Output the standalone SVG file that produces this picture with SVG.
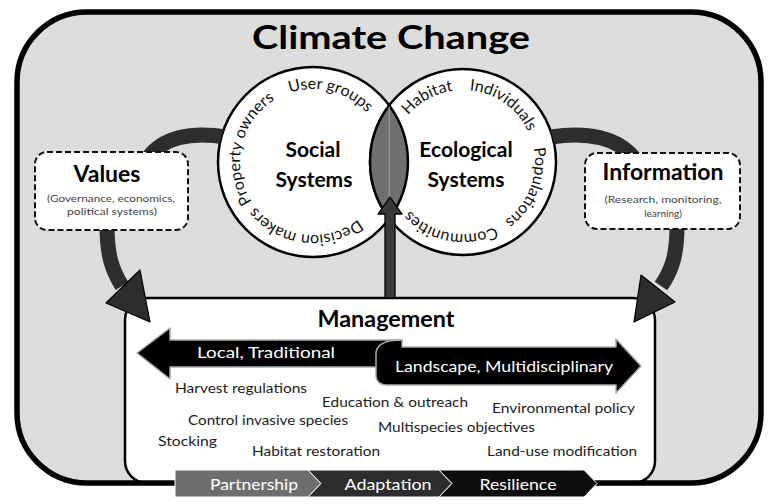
<svg xmlns="http://www.w3.org/2000/svg" xmlns:xlink="http://www.w3.org/1999/xlink" width="769" height="504" viewBox="0 0 769 504">
<style>
.t{font-family:Lato,"Open Sans","Liberation Sans",sans-serif;}
.b{font-weight:bold;}
.ring{fill:#fff;stroke:#000;stroke-width:2.5;}
.ct{font-size:16px;fill:#111;}
.item{font-size:13.5px;fill:#1c1c1c;}
.band{fill:none;stroke:#2e2e2e;stroke-width:15;}
.head{fill:#2e2e2e;stroke:#000;stroke-width:1.2;stroke-linejoin:round;}
.dash{fill:#fff;stroke:#111;stroke-width:2;stroke-dasharray:6 3;}
.sub{font-size:10px;fill:#444;}
.chev{stroke:#fff;stroke-width:1;}
.w{fill:#fff;font-size:16px;}
</style>
<defs>
<path id="tpL" d="M240,162 A73,73 0 1 1 386,162 A73,73 0 1 1 240,162 A73,73 0 1 1 386,162 A73,73 0 1 1 240,162"/>
<path id="tpR" d="M391,162 A72,72 0 1 1 535,162 A72,72 0 1 1 391,162 A72,72 0 1 1 535,162 A72,72 0 1 1 391,162"/>
<clipPath id="outC">
<path clip-rule="evenodd" d="M0,0 H769 V504 H0 Z M218,162 A95,95 0 1 1 408,162 A95,95 0 1 1 218,162 Z M370,162 A93,93 0 1 1 556,162 A93,93 0 1 1 370,162 Z"/>
</clipPath>
</defs>
<rect width="769" height="504" fill="#fff"/>
<g id="frame">
<rect x="17" y="12" width="744" height="471" rx="70" ry="70" fill="#dcdcdc"/>
<text class="t b" x="391" y="49" font-size="33" text-anchor="middle" textLength="278" lengthAdjust="spacingAndGlyphs">Climate Change</text>
</g>
<g id="management">
<rect x="125" y="298" width="530" height="185" rx="22" ry="22" fill="#fff" stroke="#000" stroke-width="2.5"/>
<text class="t b" x="386" y="327" font-size="22" text-anchor="middle" textLength="137" lengthAdjust="spacingAndGlyphs">Management</text>
<path d="M137,353 L170,328 L170,340 L402,340 L402,367 L170,367 L170,379 Z" fill="#000" stroke="#aaa" stroke-width="1.5" stroke-linejoin="round"/>
<text class="t w" x="266" y="358" text-anchor="middle" textLength="138" lengthAdjust="spacingAndGlyphs">Local, Traditional</text>
<path d="M376,354 C376,344 386,340 402,340 L402,347 L616,347 L616,339 L641,366 L616,393 L616,385 L386,385 C380,385 376,381 376,376 Z" fill="#000" stroke="#aaa" stroke-width="1.5" stroke-linejoin="round"/>
<text class="t w" x="504" y="372" text-anchor="middle" textLength="218" lengthAdjust="spacingAndGlyphs">Landscape, Multidisciplinary</text>
<text class="t item" x="175" y="393" textLength="132" lengthAdjust="spacingAndGlyphs">Harvest regulations</text>
<text class="t item" x="322" y="407" textLength="146" lengthAdjust="spacingAndGlyphs">Education &amp; outreach</text>
<text class="t item" x="492" y="413" textLength="143" lengthAdjust="spacingAndGlyphs">Environmental policy</text>
<text class="t item" x="188" y="425" textLength="160" lengthAdjust="spacingAndGlyphs">Control invasive species</text>
<text class="t item" x="378" y="432" textLength="157" lengthAdjust="spacingAndGlyphs">Multispecies objectives</text>
<text class="t item" x="158" y="446" textLength="59" lengthAdjust="spacingAndGlyphs">Stocking</text>
<text class="t item" x="252" y="456" textLength="128" lengthAdjust="spacingAndGlyphs">Habitat restoration</text>
<text class="t item" x="487" y="456" textLength="150" lengthAdjust="spacingAndGlyphs">Land-use modification</text>
</g>
<rect x="17" y="12" width="744" height="471" rx="70" ry="70" fill="none" stroke="#000" stroke-width="5.5"/>
<g id="stages">
<path class="chev" d="M175,470 L308,470 L321,483.5 L308,497 L175,497 Z" fill="#6e6e6e"/>
<path class="chev" d="M308,470 L439,470 L452,483.5 L439,497 L308,497 L321,483.5 Z" fill="#2e2e2e"/>
<path class="chev" d="M439,470 L584,470 L597,483.5 L584,497 L439,497 L452,483.5 Z" fill="#0d0d0d"/>
<text class="t w" x="254" y="490" text-anchor="middle" textLength="88" lengthAdjust="spacingAndGlyphs" fill="#eee">Partnership</text>
<text class="t w" x="388" y="490" text-anchor="middle" textLength="87" lengthAdjust="spacingAndGlyphs">Adaptation</text>
<text class="t w" x="518" y="490" text-anchor="middle" textLength="77" lengthAdjust="spacingAndGlyphs">Resilience</text>
</g>
<g id="social-systems">
<circle class="ring" cx="313" cy="162" r="95"/>
</g>
<g id="ecological-systems">
<circle class="ring" cx="463" cy="162" r="93"/>
</g>
<g id="overlap">
<path d="M389.25,105.4 A93,93 0 0 0 389.25,218.6 A95,95 0 0 0 389.25,105.4 Z" fill="#707070" stroke="#000" stroke-width="2.5"/>
<line x1="389.25" y1="107" x2="389.25" y2="217" stroke="#9a9a9a" stroke-width="1.2"/>
</g>
<g id="social-text">
<text class="t b" x="313" y="157" font-size="21" text-anchor="middle">Social</text>
<text class="t b" x="314" y="187" font-size="21" text-anchor="middle">Systems</text>
<text class="t ct" text-anchor="middle"><textPath xlink:href="#tpL" startOffset="133">User groups</textPath></text>
<text class="t ct" text-anchor="middle"><textPath xlink:href="#tpL" startOffset="474">Property owners</textPath></text>
<text class="t ct" text-anchor="middle"><textPath xlink:href="#tpL" startOffset="352">Decision makers</textPath></text>
</g>
<g id="ecological-text">
<text class="t b" x="466" y="157" font-size="21" text-anchor="middle">Ecological</text>
<text class="t b" x="466" y="187" font-size="21" text-anchor="middle">Systems</text>
<text class="t ct" text-anchor="middle"><textPath xlink:href="#tpR" startOffset="76.7">Habitat</textPath></text>
<text class="t ct" text-anchor="middle"><textPath xlink:href="#tpR" startOffset="157">Individuals</textPath></text>
<text class="t ct" text-anchor="middle"><textPath xlink:href="#tpR" startOffset="253">Populations</textPath></text>
<text class="t ct" text-anchor="middle"><textPath xlink:href="#tpR" startOffset="352">Communities</textPath></text>
</g>
<g id="connectors">
<path class="band" clip-path="url(#outC)" d="M226,137 C190,131 162,138 148,158" stroke-width="16"/>
<path class="band" clip-path="url(#outC)" d="M551,137 C588,131 618,138 634,158" stroke-width="15"/>
<path class="band" d="M107,226 C107,255 112,270 122,286" stroke-width="16"/>
<path class="head" d="M106,303 L140,270 L150,322 Z"/>
<path class="band" d="M677,226 C677,255 672,270 661,286" stroke-width="15"/>
<path class="head" d="M641,275 L675,302 L634,322 Z"/>
<path d="M385,298 L385,214 L378,214 L390,197 L402,214 L395,214 L395,298 Z" fill="#3a3a3a" stroke="#000" stroke-width="1.3" stroke-linejoin="round"/>
</g>
<g id="values">
<rect class="dash" x="35" y="152" width="153" height="78" rx="12" ry="12"/>
<text class="t b" x="107" y="182" font-size="23" text-anchor="middle">Values</text>
<text class="t sub" x="111" y="202" text-anchor="middle" textLength="128" lengthAdjust="spacingAndGlyphs">(Governance, economics,</text>
<text class="t sub" x="112" y="215" text-anchor="middle" textLength="90" lengthAdjust="spacingAndGlyphs">political systems)</text>
</g>
<g id="information">
<rect class="dash" x="585" y="153" width="155" height="76" rx="12" ry="12"/>
<text class="t b" x="663" y="180" font-size="23" text-anchor="middle">Information</text>
<text class="t sub" x="663" y="203" text-anchor="middle" textLength="117" lengthAdjust="spacingAndGlyphs">(Research, monitoring,</text>
<text class="t sub" x="663" y="217" text-anchor="middle">learning)</text>
</g>
</svg>
